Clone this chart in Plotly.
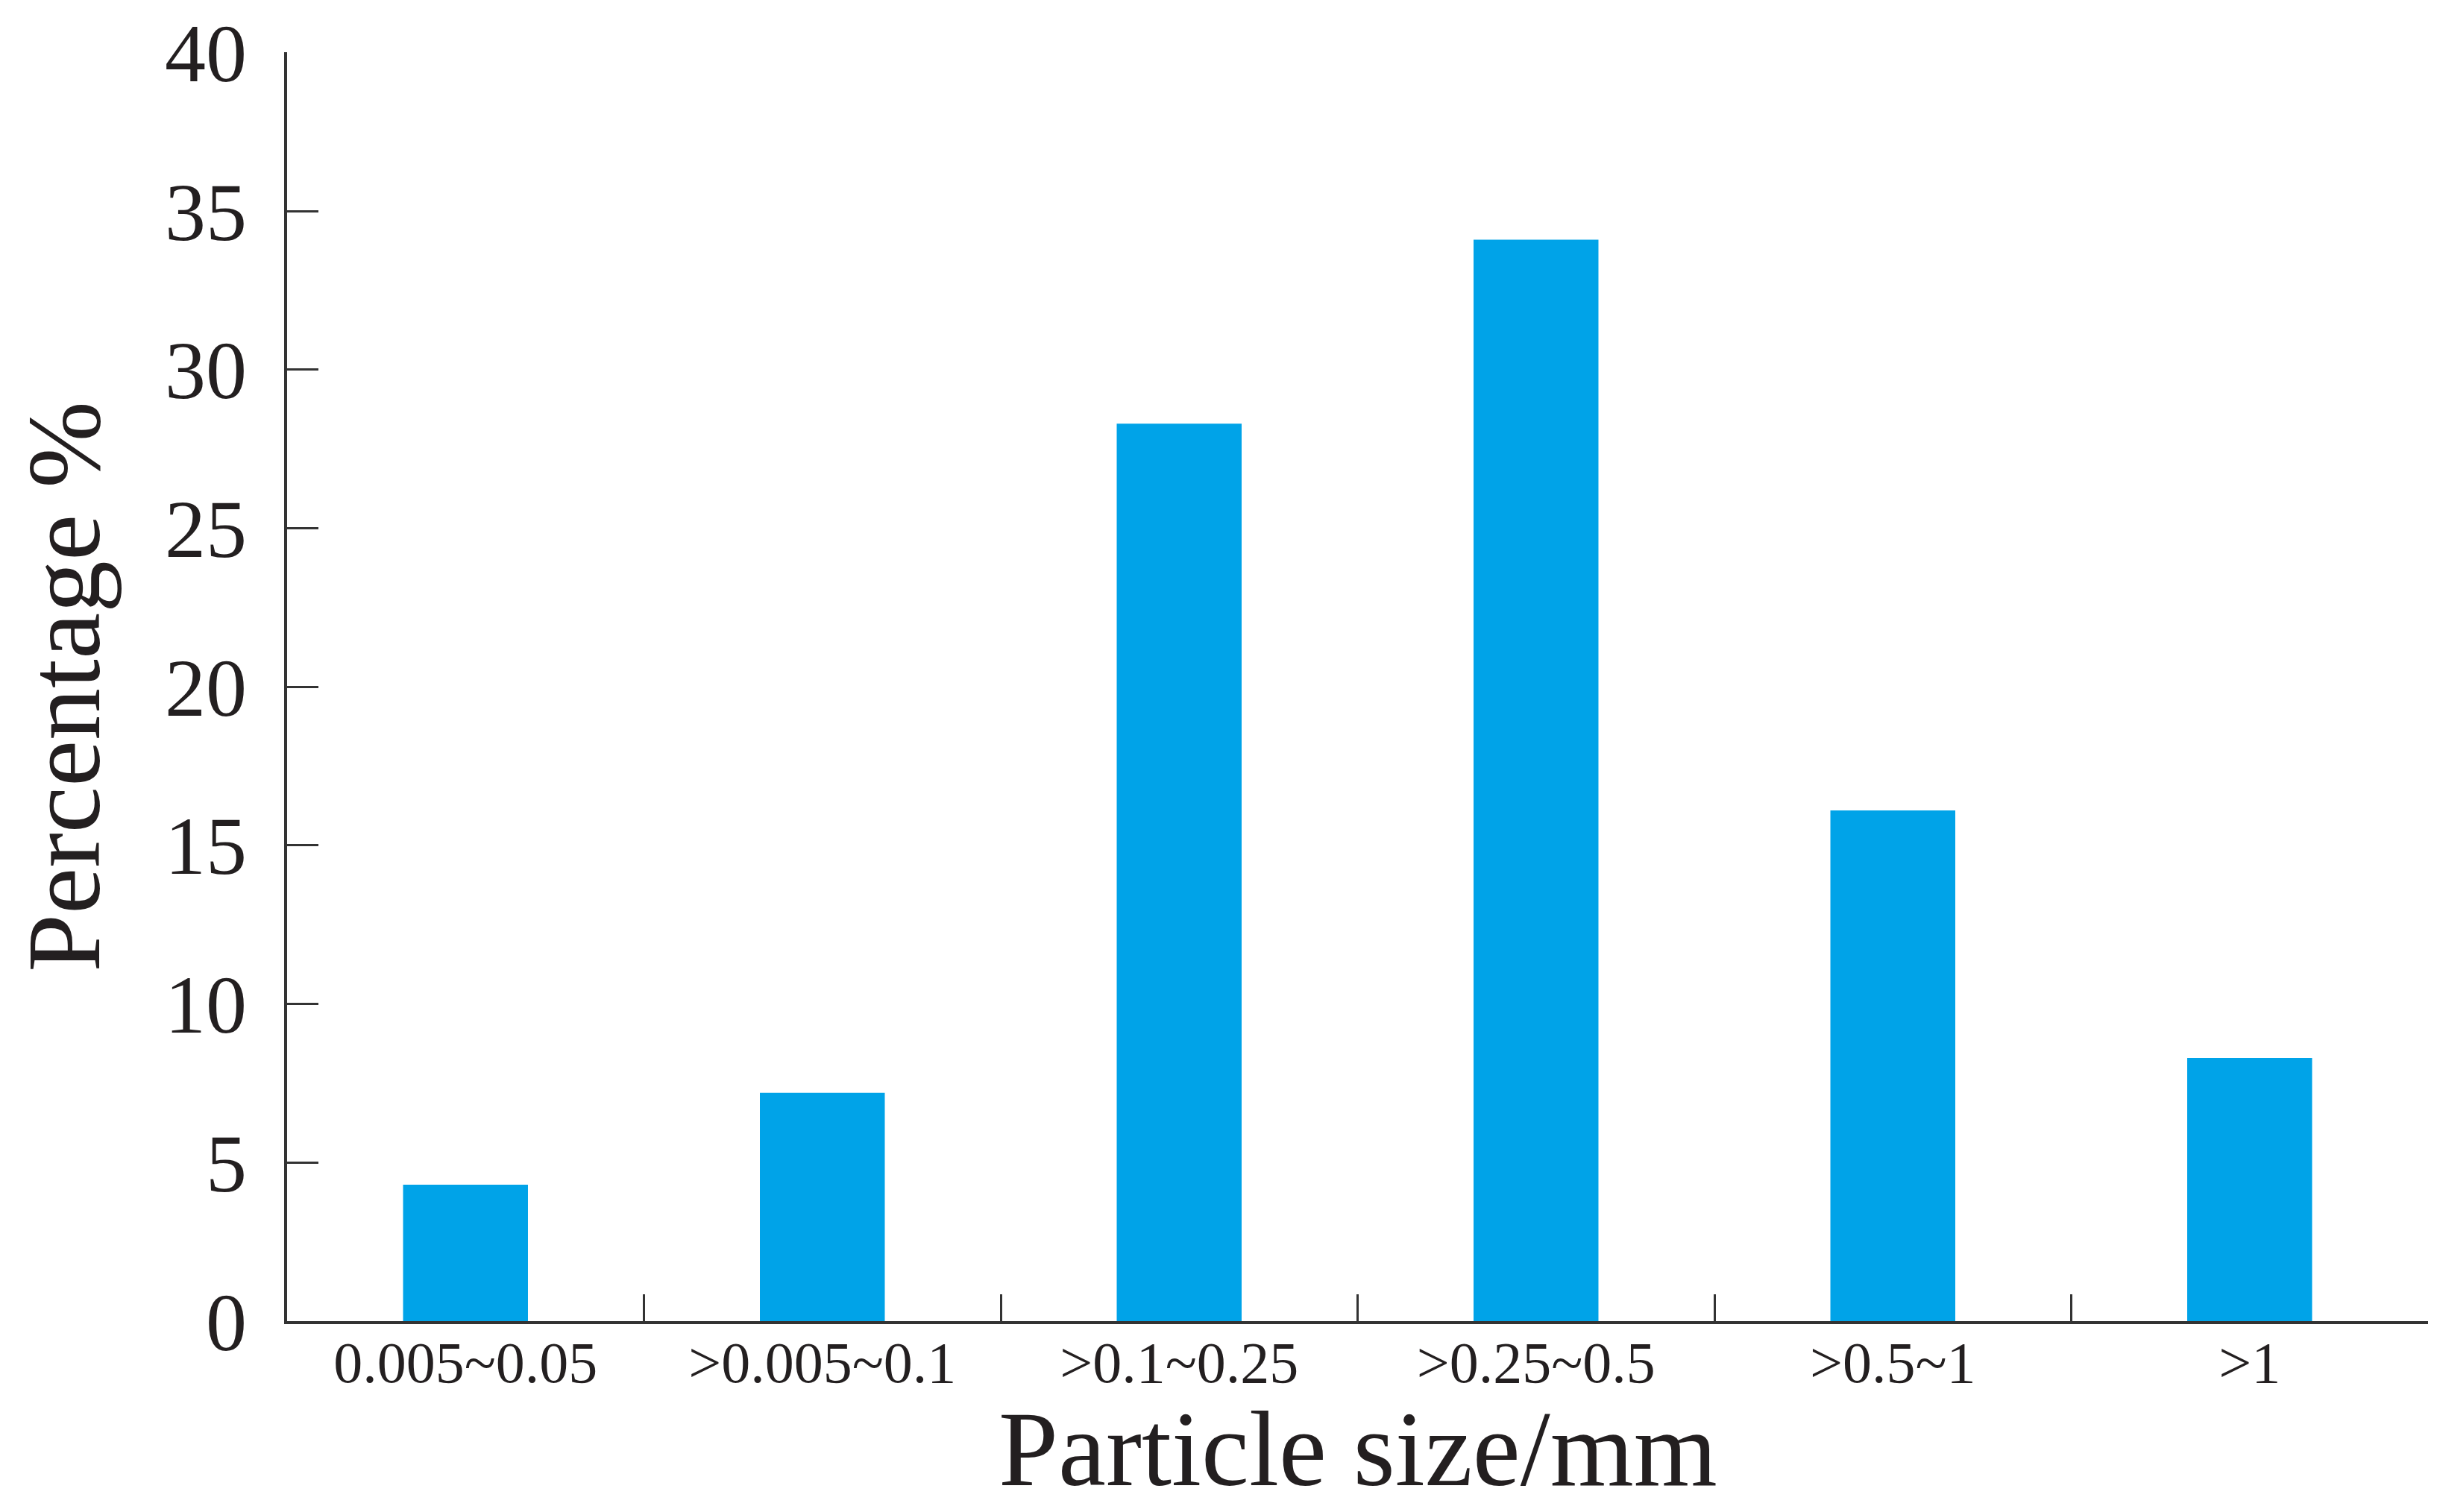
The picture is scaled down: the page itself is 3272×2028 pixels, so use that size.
import plotly.graph_objects as go

categories = ["0.005~0.05", ">0.005~0.1", ">0.1~0.25", ">0.25~0.5", ">0.5~1", ">1"]
percentages = [4.3, 7.2, 28.3, 34.1, 16.1, 8.3]
y_ticks = [0, 5, 10, 15, 20, 25, 30, 35, 40]

ink = "#231F20"
bar_blue = "#00A3E8"

fig = go.Figure()
fig.add_trace(go.Bar(x=categories, y=percentages, marker=dict(color=bar_blue, line=dict(width=0)),
                     showlegend=False))

fig.update_layout(
    width=3272, height=2028,
    margin=dict(l=377, r=24, t=62, b=264, autoexpand=False),
    paper_bgcolor="white", plot_bgcolor="white",
    bargap=0.65,
    font=dict(family="Liberation Serif", color=ink),
)
# x title as an annotation so it can sit right at the bottom edge like the original
fig.add_annotation(text="Particle size/mm", xref="paper", yref="paper", x=0.5, y=-0.101,
                   xanchor="center", yanchor="middle", showarrow=False,
                   font=dict(size=144, color=ink))
fig.update_xaxes(
    tickson="boundaries", ticks="inside", ticklen=36, tickwidth=3, tickcolor="#333333",
    showline=True, linecolor="#333333", linewidth=4, showgrid=False,
    tickfont=dict(size=78, color=ink), ticklabelstandoff=-16,
    automargin=False,
)
fig.update_yaxes(
    range=[0, 40.01], tickvals=y_ticks, ticks="inside", ticklen=42, tickwidth=3, tickcolor="#333333",
    showline=True, linecolor="#333333", linewidth=4, showgrid=False, zeroline=False,
    tickfont=dict(size=110, color=ink), ticklabelstandoff=28, ticklabeloverflow="allow",
    title=dict(text="Percentage %", font=dict(size=140, color=ink), standoff=52),
    automargin=False,
)

fig.write_html("out.html")
